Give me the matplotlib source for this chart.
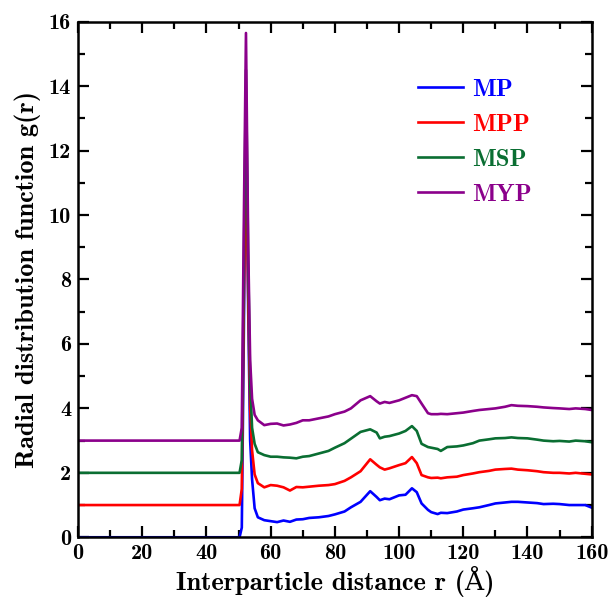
import matplotlib
matplotlib.use("Agg")
import matplotlib.pyplot as plt
from matplotlib.ticker import MultipleLocator

plt.rcParams['font.family'] = ['cmb10', 'DejaVu Serif']
plt.rcParams['axes.unicode_minus'] = False

# r (Angstrom) sample points
r = [0, 10, 20, 30, 40, 50.3, 51.0, 51.6, 52.3, 53.0, 53.6, 54.2, 55.0, 56.0, 58.0, 60.0, 62.0,
     64.0, 66.0, 68.0, 70.0, 72.0, 75.0, 78.0, 80.0, 83.0, 85.0, 88.0, 91.0, 93.0, 94.0, 95.5,
     97.0, 100.0, 102.0, 104.0, 105.5, 107.0, 109.0, 110.0, 112.0, 113.0, 115.0, 118.0, 120.0,
     123.0, 125.0, 128.0, 130.0, 133.0, 135.0, 137.0, 140.0, 143.0, 145.0, 148.0, 150.0, 153.0,
     155.0, 158.0, 160.0]

g_MP = [0, 0, 0, 0, 0, 0.0, 0.3, 6.0, 13.5, 7.0, 3.0, 1.8, 0.9, 0.62, 0.53, 0.5, 0.47,
        0.52, 0.48, 0.55, 0.56, 0.6, 0.62, 0.66, 0.71, 0.8, 0.93, 1.1, 1.43, 1.25, 1.15, 1.2,
        1.18, 1.3, 1.32, 1.52, 1.4, 1.05, 0.85, 0.78, 0.72, 0.76, 0.75, 0.8, 0.86,
        0.9, 0.93, 1.0, 1.05, 1.08, 1.1, 1.1, 1.08, 1.06, 1.03, 1.04, 1.03, 1.0,
        1.0, 1.0, 0.92]

g_MPP = [1, 1, 1, 1, 1, 1.0, 1.5, 7.0, 12.0, 7.5, 4.0, 2.7, 1.95, 1.68, 1.55, 1.62, 1.6,
         1.55, 1.45, 1.56, 1.55, 1.57, 1.6, 1.62, 1.65, 1.75, 1.86, 2.05, 2.42, 2.25, 2.17, 2.1,
         2.14, 2.24, 2.3, 2.49, 2.3, 1.93, 1.86, 1.84, 1.85, 1.83, 1.86, 1.88, 1.93,
         1.98, 2.02, 2.06, 2.1, 2.12, 2.13, 2.1, 2.08, 2.05, 2.02, 2.0, 2.0, 1.98,
         2.0, 1.97, 1.95]

g_MSP = [2, 2, 2, 2, 2, 2.0, 2.4, 8.0, 14.5, 8.5, 4.8, 3.4, 2.9, 2.64, 2.55, 2.5, 2.5,
         2.48, 2.47, 2.45, 2.5, 2.52, 2.6, 2.68, 2.78, 2.92, 3.06, 3.27, 3.35, 3.25, 3.07, 3.12,
         3.14, 3.22, 3.3, 3.45, 3.3, 2.9, 2.8, 2.78, 2.74, 2.68, 2.8, 2.82, 2.85,
         2.92, 3.0, 3.04, 3.07, 3.08, 3.1, 3.08, 3.07, 3.03, 3.0, 2.98, 2.99, 2.97,
         3.0, 2.98, 2.95]

g_MYP = [3, 3, 3, 3, 3, 3.0, 3.4, 9.5, 15.65, 9.0, 5.5, 4.3, 3.8, 3.63, 3.48, 3.52, 3.53,
         3.47, 3.5, 3.55, 3.63, 3.63, 3.69, 3.75, 3.82, 3.9, 4.0, 4.25, 4.38, 4.22, 4.15, 4.2,
         4.17, 4.25, 4.33, 4.41, 4.38, 4.15, 3.85, 3.82, 3.82, 3.83, 3.82, 3.85, 3.87,
         3.92, 3.95, 3.98, 4.0, 4.05, 4.1, 4.08, 4.07, 4.05, 4.03, 4.01, 4.0, 3.98,
         4.0, 3.98, 3.95]

labels = ['MP', 'MPP', 'MSP', 'MYP']
colors = ['#0000ff', '#ff0000', '#0a6e32', '#8b008b']
series = [g_MP, g_MPP, g_MSP, g_MYP]

fig = plt.figure(figsize=(6.10, 6.03), dpi=100)
ax = fig.add_axes([0.128, 0.109, 0.842, 0.855])

for lab, col, g in zip(labels, colors, series):
    ax.plot(r, g, color=col, lw=1.9, label=lab)

ax.set_xlim(0, 160)
ax.set_ylim(0, 16)
ax.xaxis.set_major_locator(MultipleLocator(20))
ax.xaxis.set_minor_locator(MultipleLocator(10))
ax.yaxis.set_major_locator(MultipleLocator(2))
ax.yaxis.set_minor_locator(MultipleLocator(1))
ax.tick_params(which='both', direction='in', top=True, right=True, width=1.6, labelsize=16)
ax.tick_params(which='major', length=8, pad=5)
ax.tick_params(which='minor', length=5)
for s in ax.spines.values():
    s.set_linewidth(1.8)

ax.set_xlabel('Interparticle distance r (Å)', fontsize=19, labelpad=2)
ax.set_ylabel('Radial distribution function g(r)', fontsize=19, labelpad=6)

leg = ax.legend(loc='upper left', bbox_to_anchor=(0.661, 0.89), frameon=False, fontsize=18,
                handlelength=1.8, labelspacing=0.5, handletextpad=0.4,
                borderpad=0.0, borderaxespad=0.0)
for txt, col in zip(leg.get_texts(), colors):
    txt.set_color(col)

fig.savefig('out.png', dpi=100)
